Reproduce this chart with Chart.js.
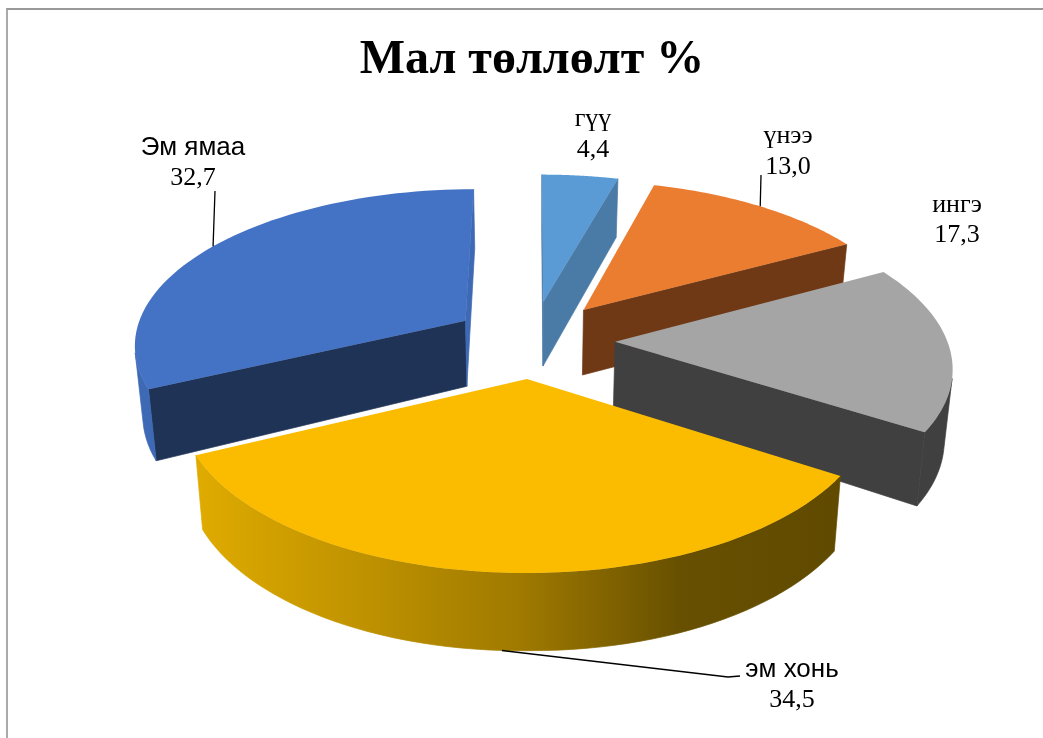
<!DOCTYPE html>
<html>
<head>
<meta charset="utf-8">
<style>
  html, body { margin: 0; background: #fff; }
  #frame { position: absolute; left: 6px; top: 8px; right: 0; bottom: 0; border-top: 2px solid #999; border-left: 2px solid #aaa; }
  canvas { position: absolute; left: 0; top: 0; }
</style>
<script src="https://cdn.jsdelivr.net/npm/chart.js@4"></script>
</head>
<body>
<div id="frame"></div>
<canvas id="pie" width="1043" height="738"></canvas>
<script>
const titleText = 'Мал төллөлт %';
const categories = ['гүү', 'үнээ', 'ингэ', 'эм хонь', 'Эм ямаа'];
const values = [4.4, 13.0, 17.3, 34.5, 32.7];
const topColors = ['#5B9BD5', '#EB7D31', '#A5A5A5', '#FBBC00', '#4472C4'];
const sliceOffsets = [86, 85, 83, 80, 80];

// стенки кусков: начальная и конечная грань, дуга
const startSideColors = ['#4A7AA6', '#6F3916', '#404040', '#A07A00', '#1F3356'];
const endSideColors = ['#4A7AA6', '#6F3916', '#404040', '#A07A00', '#3D69B5'];
const rimColors = ['#4A7AA6', '#6F3916', '#404040', null, '#3D69B5'];

// подписи: x, базовые линии, конец выноски
const labelLayout = [
  { x: 593, y1: 126, y2: 157, serif: true },
  { x: 788, y1: 143, y2: 174, serif: true, line: [[761, 175]] },
  { x: 957, y1: 212, y2: 242, serif: true },
  { x: 792, y1: 677, y2: 707, serif: false, onWall: true, line: [[728, 677], [740, 676]] },
  { x: 193, y1: 155, y2: 185, serif: false, line: [[215, 191]] }
];

const PERSPECTIVE = 0.14;
const TILT = 0.467;
const DEPTH = 66;

function project(el, mx, my) {
  const w = 1 - PERSPECTIVE * my / el.outerRadius;
  return { x: el.x + mx / w, y: el.y + TILT * my / w };
}

function drop(el, p) {
  const dx = p.x - el.x;
  const d = DEPTH + 0.05 * (p.y - el.y) + 0.008 * Math.abs(dx);
  return { x: el.x + dx * 0.98, y: p.y + d };
}

function rimPoint(el, angle) {
  const mid = (el.startAngle + el.endAngle) / 2;
  const off = el.options.offset;
  const R = el.outerRadius;
  return project(el, Math.cos(mid) * off + Math.cos(angle) * R, Math.sin(mid) * off + Math.sin(angle) * R);
}

function apexPoint(el) {
  const mid = (el.startAngle + el.endAngle) / 2;
  const off = el.options.offset;
  return project(el, Math.cos(mid) * off, Math.sin(mid) * off);
}

function polygon(ctx, pts) {
  ctx.beginPath();
  pts.forEach((p, i) => (i ? ctx.lineTo(p.x, p.y) : ctx.moveTo(p.x, p.y)));
  ctx.closePath();
}

function area(pts) {
  let s = 0;
  pts.forEach((p, i) => {
    const q = pts[(i + 1) % pts.length];
    s += p.x * q.y - q.x * p.y;
  });
  return s / 2;
}

function fillWall(ctx, el, top, fill) {
  const pts = [...top, ...top.map(p => drop(el, p)).reverse()];
  ctx.fillStyle = fill;
  ctx.strokeStyle = fill;
  ctx.lineWidth = 0.7;
  polygon(ctx, pts);
  ctx.fill();
  ctx.stroke();
}

function drawSlice(ctx, el, index, yellowWall) {
  const apex = apexPoint(el);
  const rim = [];
  const steps = 60;
  for (let i = 0; i <= steps; i++) {
    rim.push(rimPoint(el, el.startAngle + (el.endAngle - el.startAngle) * i / steps));
  }

  // только видимые грани, обратные отбрасываем по знаку площади
  const faces = (a, b) => area([a, b, drop(el, b), drop(el, a)]) < 0;
  if (faces(apex, rim[0])) fillWall(ctx, el, [apex, rim[0]], startSideColors[index]);
  if (faces(rim[steps], apex)) fillWall(ctx, el, [rim[steps], apex], endSideColors[index]);

  let run = [];
  for (let i = 0; i < steps; i++) {
    if (faces(rim[i], rim[i + 1])) {
      if (!run.length) run.push(rim[i]);
      run.push(rim[i + 1]);
    } else if (run.length) {
      fillWall(ctx, el, run, rimColors[index] || yellowWall);
      run = [];
    }
  }
  if (run.length) fillWall(ctx, el, run, rimColors[index] || yellowWall);

  ctx.fillStyle = el.options.backgroundColor;
  polygon(ctx, [apex, ...rim]);
  ctx.fill();
}

const pie3d = {
  id: 'pie3d',
  beforeDatasetDraw(chart, args) {
    const ctx = chart.ctx;
    const arcs = args.meta.data;
    const order = arcs.map((el, i) => i).sort((a, b) => {
      return apexPoint(arcs[a]).y - apexPoint(arcs[b]).y;
    });

    const yellowWall = ctx.createLinearGradient(198, 0, 840, 0);
    yellowWall.addColorStop(0, '#DFAB00');
    yellowWall.addColorStop(0.5, '#A07A00');
    yellowWall.addColorStop(0.75, '#675000');
    yellowWall.addColorStop(1, '#604A00');

    ctx.save();
    order.forEach(i => drawSlice(ctx, arcs[i], i, yellowWall));
    ctx.restore();
    return false;
  },
  afterDatasetsDraw(chart) {
    const ctx = chart.ctx;
    const arcs = chart.getDatasetMeta(0).data;
    ctx.save();
    ctx.fillStyle = '#000';
    ctx.textAlign = 'center';
    ctx.textBaseline = 'alphabetic';
    arcs.forEach((el, i) => {
      const l = labelLayout[i];
      if (l.line) {
        let start = rimPoint(el, (el.startAngle + el.endAngle) / 2);
        if (l.onWall) start = drop(el, start);
        ctx.strokeStyle = '#000';
        ctx.lineWidth = 1.3;
        ctx.beginPath();
        ctx.moveTo(start.x, start.y);
        l.line.forEach(p => ctx.lineTo(p[0], p[1]));
        ctx.stroke();
      }
      ctx.font = l.serif ? '26px "Liberation Serif"' : '26px "Liberation Sans"';
      ctx.fillText(categories[i], l.x, l.y1);
      ctx.font = '26px "Liberation Serif"';
      ctx.fillText(values[i].toFixed(1).replace('.', ','), l.x, l.y2);
    });
    ctx.restore();
  }
};

new Chart(document.getElementById('pie'), {
  type: 'pie',
  data: {
    labels: categories,
    datasets: [{
      data: values,
      backgroundColor: topColors,
      borderWidth: 0,
      offset: sliceOffsets
    }]
  },
  options: {
    responsive: false,
    animation: false,
    radius: 332,
    layout: { padding: { left: 21, bottom: 151 } },
    plugins: {
      legend: { display: false },
      tooltip: { enabled: false },
      title: {
        display: true,
        text: titleText,
        color: '#000',
        font: { family: '"Liberation Serif"', size: 48, weight: 'bold' },
        padding: { top: 32, bottom: 4 }
      }
    }
  },
  plugins: [pie3d]
});
</script>
</body>
</html>
